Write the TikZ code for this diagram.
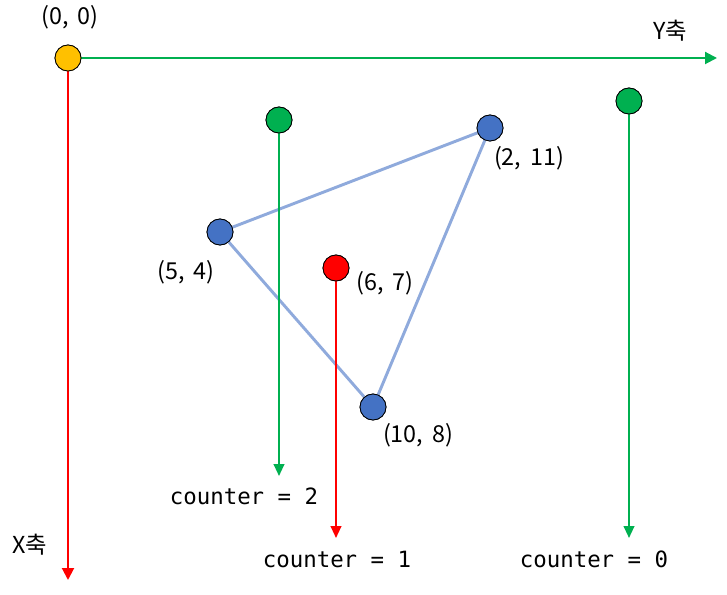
\documentclass[tikz,border=0pt]{standalone}
\usepackage{fontspec}
\setmainfont{Noto Sans CJK KR}
\newfontfamily\monofont{DejaVu Sans Mono}
\usetikzlibrary{arrows.meta}
\definecolor{cyellow}{HTML}{FFC000}
\definecolor{cgreen}{HTML}{00B050}
\definecolor{cred}{HTML}{FF0000}
\definecolor{cblue}{HTML}{4472C4}
\definecolor{cedge}{HTML}{8FAADC}
\newcommand{\csp}{,\hspace{0.38em}}
\tikzset{
  pt/.style={circle, draw=black, line width=0.6pt, minimum size=19.5pt, inner sep=0pt},
  lbl/.style={font=\fontsize{17.5}{20}\selectfont, inner sep=0pt},
  code/.style={font=\monofont\fontsize{16.8}{19}\selectfont, inner sep=0pt},
  axis/.style={line width=1.5pt, -{Triangle[length=9pt, width=9pt]}},
  drop/.style={line width=1.5pt, -{Triangle[length=9pt, width=8pt]}},
  edge/.style={cedge, line width=2.2pt}
}
\begin{document}
\begin{tikzpicture}[x=0.75pt, y=-0.75pt]
\useasboundingbox (0,0) rectangle (727,595);
% points
\node[pt, fill=cblue] (a) at (490,128) {};
\node[pt, fill=cblue] (b) at (220,232) {};
\node[pt, fill=cblue] (c) at (373,407) {};
\node[pt, fill=cyellow] (o) at (68,58) {};
\coordinate (yend) at (717,58);
\coordinate (xend) at (68,580);
\node[pt, fill=cgreen] (g1) at (279,120) {};
\node[pt, fill=cred] (r) at (336,268) {};
\node[pt, fill=cgreen] (g2) at (629,101) {};
\coordinate (g1end) at (279,476);
\coordinate (rend) at (336,538);
\coordinate (g2end) at (629,538);
% labels
\node[lbl] (l0) at (70,17) {(0\csp0)};
\node[lbl] (ly) at (670,31) {Y축};
\node[lbl] (lx) at (30,545) {X축};
\node[lbl] (la) at (529,158) {(2\csp11)};
\node[lbl] (lb) at (186,272) {(5\csp4)};
\node[lbl] (lc) at (418,435) {(10\csp8)};
\node[lbl] (lr) at (385,283) {(6\csp7)};
\node[code] (c2) at (244,496) {counter = 2};
\node[code] (c1) at (337,559) {counter = 1};
\node[code] (c0) at (594,559) {counter = 0};
% connectors
\draw[axis, cgreen] (o) -- (yend);
\draw[axis, cred] (o) -- (xend);
\draw[edge] (a) -- (b);
\draw[edge] (b) -- (c);
\draw[edge] (c) -- (a);
\draw[drop, cgreen] (g1) -- (g1end);
\draw[drop, cred] (r) -- (rend);
\draw[drop, cgreen] (g2) -- (g2end);
% redraw circles on top
\node[pt, fill=cblue] at (a) {};
\node[pt, fill=cblue] at (b) {};
\node[pt, fill=cblue] at (c) {};
\node[pt, fill=cyellow] at (o) {};
\node[pt, fill=cgreen] at (g1) {};
\node[pt, fill=cred] at (r) {};
\node[pt, fill=cgreen] at (g2) {};
\end{tikzpicture}
\end{document}
